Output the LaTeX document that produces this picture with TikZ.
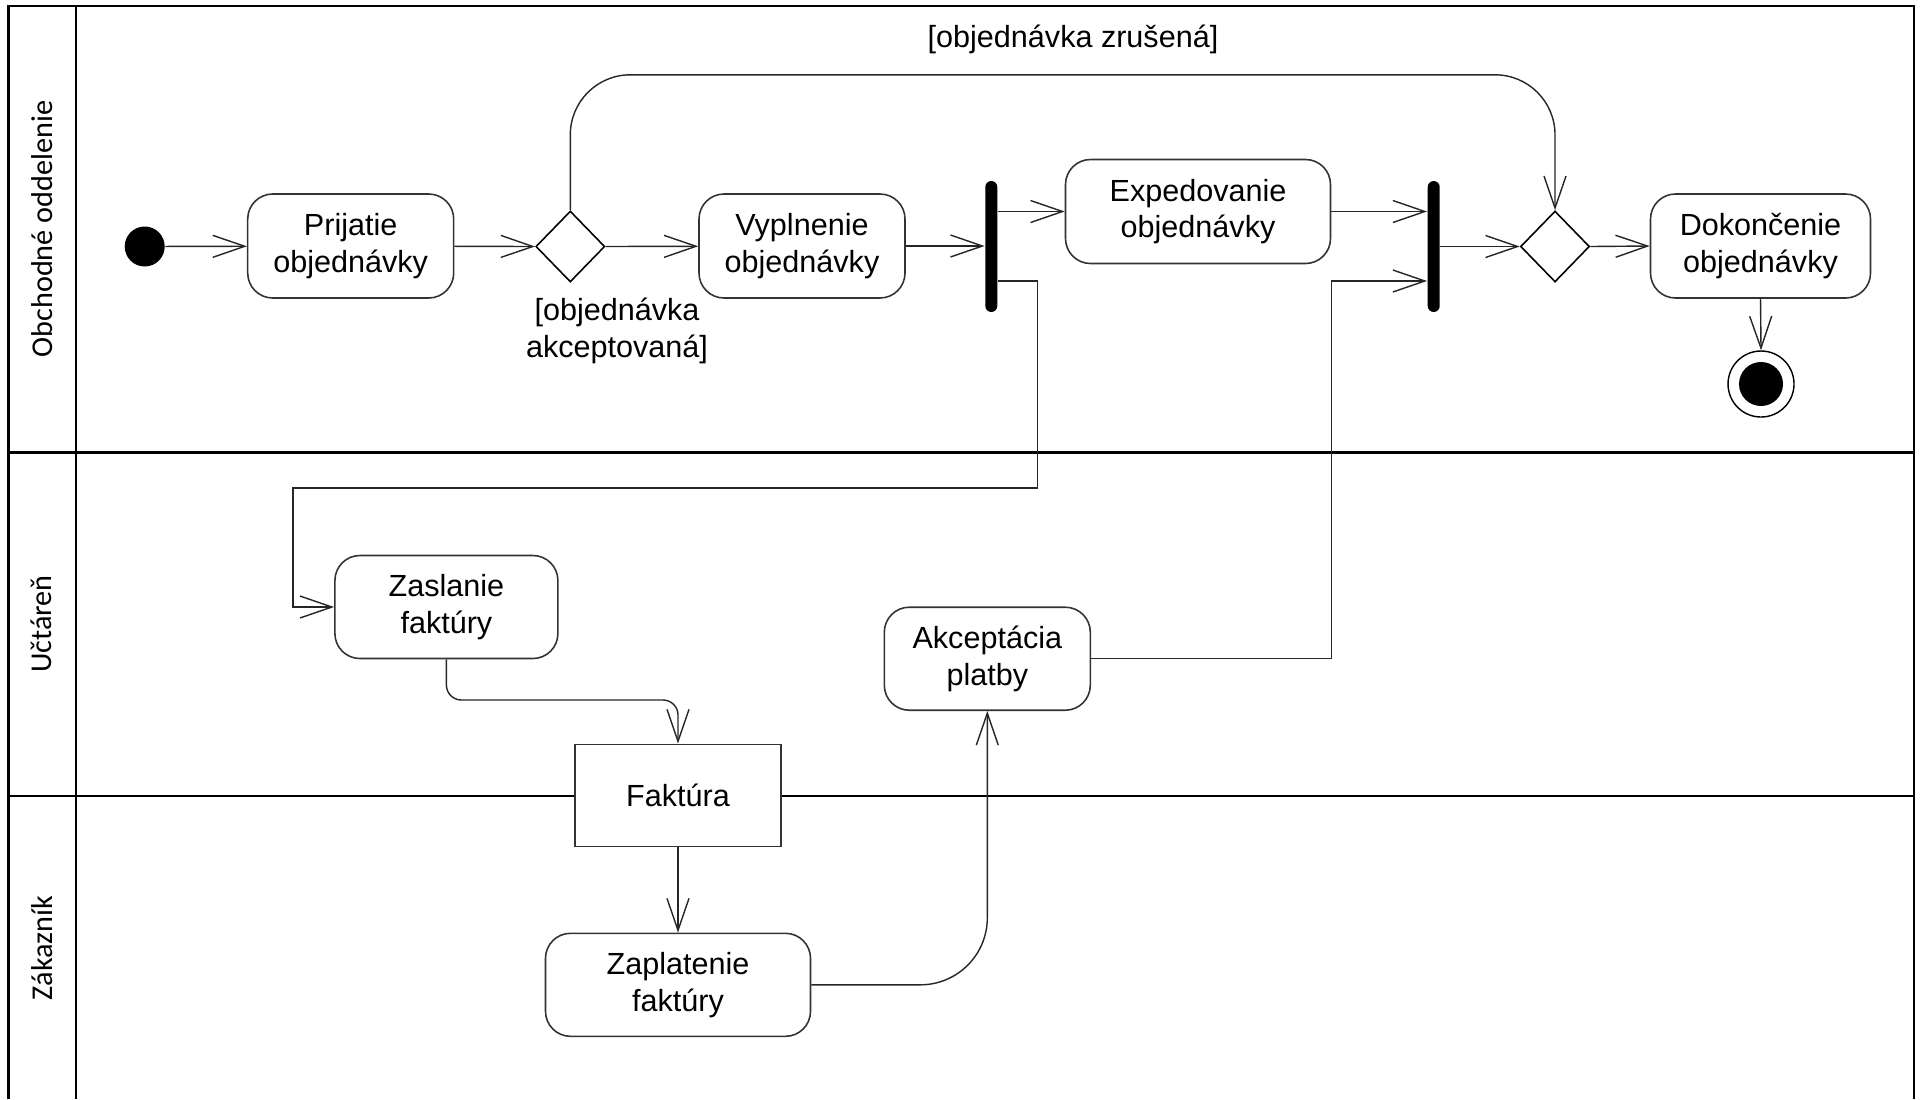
\documentclass[tikz,border=0pt]{standalone}
\usepackage{fontspec}
\setmainfont{Liberation Sans}
\newfontfamily\lanefont{Carlito}
\usetikzlibrary{arrows.meta,shapes.geometric}
\tikzset{
   action/.style={draw=black!80,line width=0.45pt,rounded corners=0.25cm,fill=white,
      minimum width=2.06cm,minimum height=1.04cm,inner sep=0pt,align=center,
      font=\fontsize{8.7}{10.4}\selectfont},
   objbox/.style={draw=black!80,line width=0.45pt,fill=white,minimum width=2.06cm,
      minimum height=1.02cm,inner sep=0pt,font=\fontsize{8.7}{10.4}\selectfont},
   choice/.style={draw,diamond,fill=white,minimum width=0.69cm,minimum height=0.71cm,
      inner sep=0pt,line width=0.45pt},
   forkbar/.style={fill=black,rounded corners=0.06cm,minimum width=0.12cm,
      minimum height=1.31cm,inner sep=0pt},
   flow/.style={-{Straight Barb[length=0.32cm,width=0.22cm]},line width=0.4pt,black!85},
   guard/.style={align=center,font=\fontsize{8.7}{10.4}\selectfont},
   lane/.style={line width=0.7pt},
   lanename/.style={rotate=90,font=\lanefont\fontsize{8.6}{10}\selectfont}
}
\begin{document}
\begin{tikzpicture}[x=1cm,y=-1cm]
      \useasboundingbox (0,0) rectangle (19.23,10.99);
      \draw[lane] (0.086,10.99) |- (19.14,0.06) -- (19.14,10.99);
      \draw[lane] (0.76,0.06) -- (0.76,10.99);
      \draw[lane] (0.086,4.525) -- (19.14,4.525);
      \draw[lane] (0.086,7.96) -- (19.14,7.96);
      \node[lanename] (sales) at (0.417,2.29) {Obchodné oddelenie};
      \node[lanename] (acct) at (0.417,6.24) {Učtáreň};
      \node[lanename] (cust) at (0.417,9.48) {Zákazník};

      \node[circle,fill=black,minimum size=0.4cm,inner sep=0pt] (start) at (1.447,2.465) {};
      \node[action] (receive) at (3.507,2.46) {Prijatie\\objednávky};
      \node[choice] (accept) at (5.703,2.465) {};
      \node[action] (fill) at (8.02,2.46) {Vyplnenie\\objednávky};
      \node[forkbar] (fork) at (9.913,2.465) {};
      \node[action,minimum width=2.65cm] (ship) at (11.98,2.115) {Expedovanie\\objednávky};
      \node[forkbar] (join) at (14.337,2.465) {};
      \node[choice] (merge) at (15.55,2.465) {};
      \node[action,minimum width=2.2cm] (close) at (17.605,2.46) {Dokončenie\\objednávky};
      \node[circle,draw,fill=white,minimum size=0.66cm,inner sep=0pt] (stop) at (17.61,3.84) {};
      \fill (stop) circle (0.22);

      \node[action,minimum width=2.23cm,minimum height=1.03cm] (send) at (4.464,6.07) {Zaslanie\\faktúry};
      \node[action,minimum height=1.03cm] (payok) at (9.873,6.587) {Akceptácia\\platby};
      \node[objbox] (invoice) at (6.78,7.953) {Faktúra};
      \node[action,minimum width=2.65cm,minimum height=1.03cm] (pay) at (6.78,9.848) {Zaplatenie\\faktúry};

      \node[guard] (okguard) at (6.17,3.31) {[objednávka\\akceptovaná]};
      \node[guard] (noguard) at (10.73,0.39) {[objednávka zrušená]};

      \coordinate (top) at (10.6,0.748);
      \coordinate (down) at (10.377,4.88);
      \coordinate (left) at (2.93,4.88);
      \coordinate (mid) at (5.6,7.0);

      \draw[flow] (start) -- (receive);
      \draw[flow] (receive) -- (accept.west);
      \draw[flow] (accept.east) -- (fill);
      \draw[flow,rounded corners=0.6cm] (accept.north) |- (top) -| (merge.north);
      \draw[flow] (fill.east) -- (fill.east -| fork.west);
      \draw[flow] (fork.east |- ship.west) -- (ship.west);
      \draw[flow] ([yshift=-0.345cm]fork.east) -| (down) -- (left) |- (send.west);
      \draw[flow] (ship.east) -- (ship.east -| join.west);
      \draw[flow] (payok.east) -| ([yshift=-0.345cm]join.west -| ship.east) -- ([yshift=-0.345cm]join.west);
      \draw[flow] (join.east |- merge.west) -- (merge.west);
      \draw[flow] (merge.east) -- (close.west);
      \draw[flow] (close.south) -- (stop.north);
      \draw[flow,rounded corners=0.15cm] (send.south) |- (mid) -| (invoice.north);
      \draw[flow] (invoice.south) -- (pay.north);
      \draw[flow,rounded corners=0.67cm] (pay.east) -| (payok.south);
   \end{tikzpicture}
\end{document}
